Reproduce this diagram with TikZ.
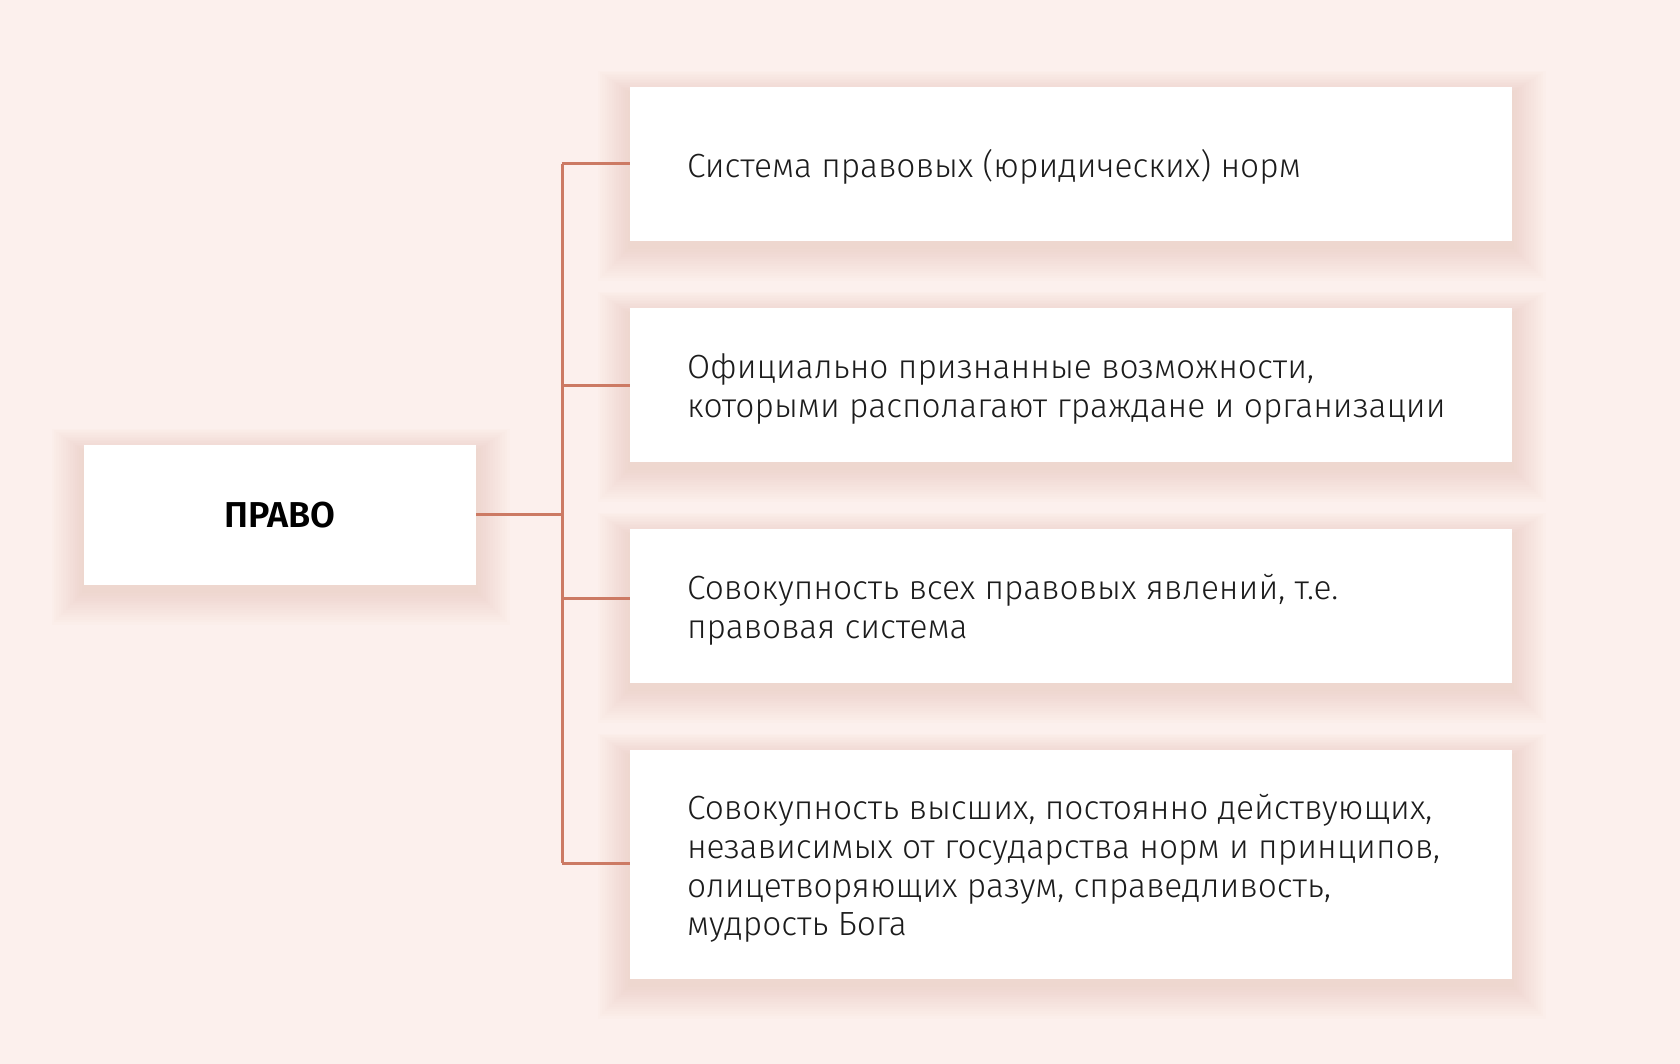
\documentclass[tikz,border=0pt]{standalone}
\usepackage{fontspec}
\setmainfont{Fira Sans Light}
\newfontfamily\medfont{Fira Sans SemiBold}
\definecolor{bgcol}{RGB}{252,240,237}
\definecolor{glowcol}{RGB}{236,194,180}
\definecolor{linecol}{RGB}{204,122,100}
\definecolor{txtcol}{RGB}{28,28,28}
\newcommand\glowrect[4]{\foreach \i in {1,...,14}{\fill[glowcol,opacity=0.038] ({#1-\i*2.3},{#2-\i*1.6+6}) rectangle ({#3+\i*2.4},{#4+\i*2.4+6});}}
\begin{document}
\begin{tikzpicture}[x=0.5pt,y=-0.5pt,
  box/.style={fill=white, draw=none, inner sep=0pt, minimum width=441pt},
  txt/.style={align=left, inner sep=0pt, text=txtcol, font=\fontsize{16.75pt}{19.3pt}\selectfont},
  conn/.style={draw=linecol, line width=1.5pt}]
\fill[bgcol] (0,0) rectangle (1680,1064);
\useasboundingbox (0,0) rectangle (1680,1064);
% glows
\glowrect{84}{445}{476}{585}
\glowrect{630}{87}{1512}{241}
\glowrect{630}{308}{1512}{462}
\glowrect{630}{529}{1512}{683}
\glowrect{630}{750}{1512}{979}
% boxes
\node[box, minimum width=196pt, minimum height=70pt] (p) at (280,515) {};
\node[box, minimum height=77pt] (b1) at (1071,164) {};
\node[box, minimum height=77pt] (b2) at (1071,385) {};
\node[box, minimum height=77pt] (b3) at (1071,606) {};
\node[box, minimum height=114.5pt] (b4) at (1071,864.5) {};
% texts
\node[inner sep=0pt, text=black, font=\medfont\fontsize{18pt}{20pt}\selectfont] (pt) at (p.center) {ПРАВО};
\node[txt, anchor=west] (t1) at ([xshift=28.5pt,yshift=-1.5pt]b1.west) {Система правовых (юридических) норм};
\node[txt, anchor=west] (t2) at ([xshift=28.5pt,yshift=-2pt]b2.west) {Официально признанные возможности,\\которыми располагают граждане и организации};
\node[txt, anchor=west] (t3) at ([xshift=28.5pt,yshift=-2pt]b3.west) {Совокупность всех правовых явлений, т.е.\\правовая система};
\node[txt, anchor=west] (t4) at ([xshift=28.5pt,yshift=-2pt]b4.west) {Совокупность высших, постоянно действующих,\\независимых от государства норм и принципов,\\олицетворяющих разум, справедливость,\\мудрость Бога};
% connectors
\coordinate (c1) at (562,164);
\coordinate (c2) at (562,385);
\coordinate (c3) at (562,598);
\coordinate (c4) at (562,863);
\coordinate (c0) at (562,514);
\draw[conn] (c1) -- (c4);
\draw[conn] (p.east |- c0) -- (c0);
\draw[conn] (c1) -- (c1 -| b1.west);
\draw[conn] (c2) -- (c2 -| b2.west);
\draw[conn] (c3) -- (c3 -| b3.west);
\draw[conn] (c4) -- (c4 -| b4.west);
\end{tikzpicture}
\end{document}
